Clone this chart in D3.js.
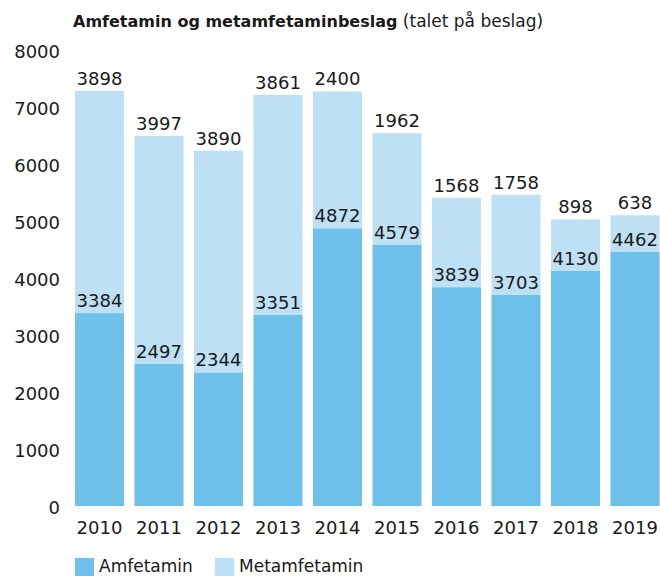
<html>
<head>
    <script src="https://d3js.org/d3.v7.min.js"></script>
    <style>
        body { margin: 0; background: #fff; }
        text { font-family: "DejaVu Sans", sans-serif; fill: #1a1a1a; }
    </style>
</head>
<body>
    <svg id="chart"></svg>
    <script>
        var years = ["2010", "2011", "2012", "2013", "2014", "2015", "2016", "2017", "2018", "2019"];
        var amfetamin = [3384, 2497, 2344, 3351, 4872, 4579, 3839, 3703, 4130, 4462];
        var metamfetamin = [3898, 3997, 3890, 3861, 2400, 1962, 1568, 1758, 898, 638];
        var yTicks = [0, 1000, 2000, 3000, 4000, 5000, 6000, 7000, 8000];
        var seriesNames = ["Amfetamin", "Metamfetamin"];
        var colors = ["#6cc0ea", "#bde0f4"];

        var width = 660, height = 576;
        var svg = d3.select("#chart").attr("width", width).attr("height", height);

        var x = d3.scaleBand().domain(years).range([75, 659.5]).paddingInner(0.176).paddingOuter(0);
        var y = d3.scaleLinear().domain([0, 8000]).range([506, 50]);

        var data = years.map(function (yr, i) {
            return { year: yr, Amfetamin: amfetamin[i], Metamfetamin: metamfetamin[i] };
        });
        var stack = d3.stack().keys(seriesNames)(data);

        // title
        var title = svg.append("text").attr("x", 73).attr("y", 27).style("font-size", "17px");
        title.append("tspan").style("font-weight", "bold").style("font-size", "16px").text("Amfetamin og metamfetaminbeslag");
        title.append("tspan").text(" (talet på beslag)");

        // bars
        svg.append("g").selectAll("g")
            .data(stack)
            .enter()
            .append("g")
            .style("fill", function (d, i) { return colors[i]; })
            .selectAll("rect")
            .data(function (d) { return d; })
            .enter()
            .append("rect")
            .attr("x", function (d) { return x(d.data.year); })
            .attr("width", x.bandwidth())
            .attr("y", function (d) { return y(d[1]); })
            .attr("height", function (d) { return y(d[0]) - y(d[1]); });

        // value labels
        svg.append("g").selectAll("g")
            .data(stack)
            .enter()
            .append("g")
            .selectAll("text")
            .data(function (d) { return d; })
            .enter()
            .append("text")
            .attr("x", function (d) { return x(d.data.year) + x.bandwidth() / 2; })
            .attr("y", function (d) { return y(d[1]) - 6; })
            .attr("text-anchor", "middle")
            .style("font-size", "18px")
            .text(function (d) { return d[1] - d[0]; });

        // y axis
        var yAxis = svg.append("g")
            .attr("transform", "translate(60,0)")
            .call(d3.axisLeft(y).tickValues(yTicks).tickSize(0).tickPadding(0).tickFormat(d3.format("d")));
        yAxis.select(".domain").remove();
        yAxis.selectAll("text")
            .style("font-family", "DejaVu Sans")
            .style("font-size", "18px")
            .attr("fill", "#1a1a1a")
            .attr("dy", "0.4em");

        // x axis
        var xAxis = svg.append("g")
            .attr("transform", "translate(0,506)")
            .call(d3.axisBottom(x).tickSize(0).tickPadding(0));
        xAxis.select(".domain").remove();
        xAxis.selectAll("text")
            .style("font-family", "DejaVu Sans")
            .style("font-size", "18px")
            .attr("fill", "#1a1a1a")
            .attr("y", 28)
            .attr("dy", 0);

        // legend
        var legendX = [75, 215];
        var legend = svg.append("g").selectAll("g")
            .data(seriesNames)
            .enter()
            .append("g")
            .attr("transform", function (d, i) { return "translate(" + legendX[i] + ",558)"; });
        legend.append("rect")
            .attr("width", 19)
            .attr("height", 18)
            .style("fill", function (d, i) { return colors[i]; });
        legend.append("text")
            .attr("x", 24)
            .attr("y", 14)
            .style("font-size", "17px")
            .text(function (d) { return d; });
    </script>
</body>
</html>
